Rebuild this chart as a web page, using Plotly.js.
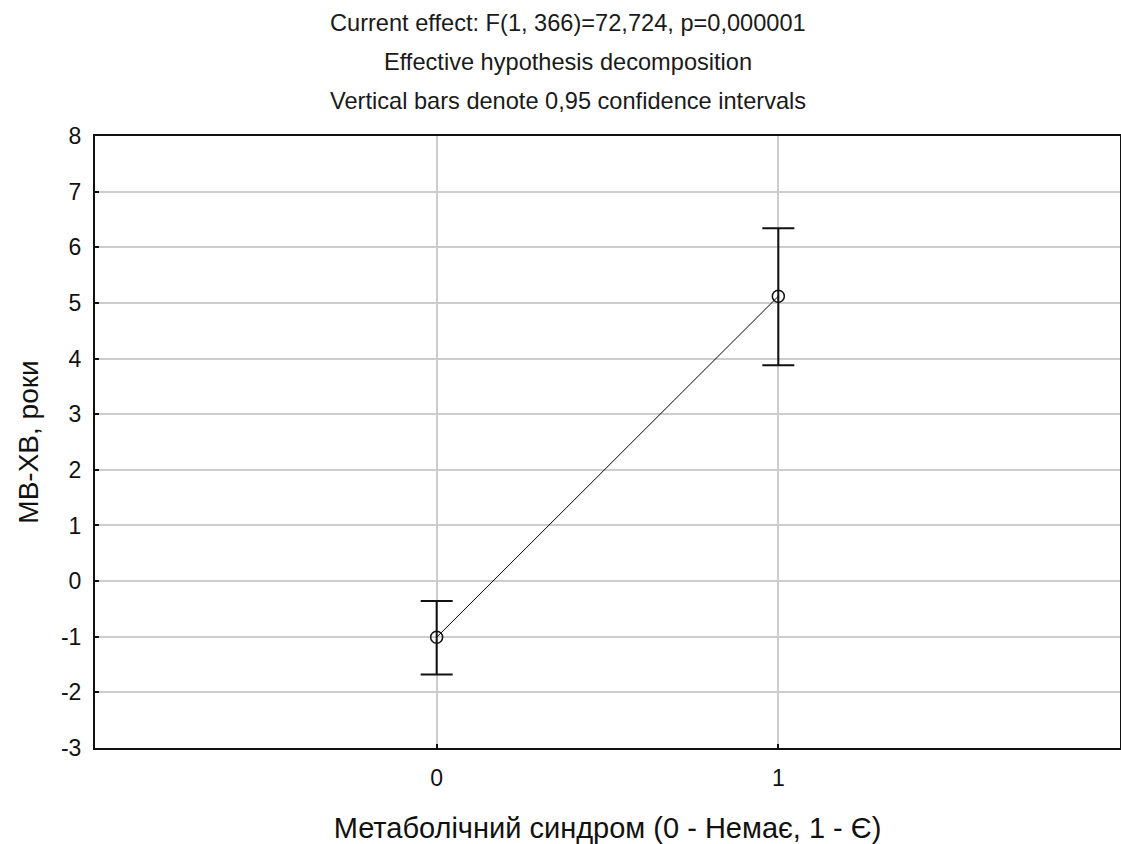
<!DOCTYPE html>
<html>
<head>
<meta charset="utf-8">
<script src="https://cdn.plot.ly/plotly-3.0.1.min.js"></script>
<style>html,body{margin:0;padding:0;background:#fff;}#chart{width:1121px;height:844px;}</style>
</head>
<body>
<div id="chart"></div>
<script>
const categories = [0, 1];
const means = [-1.01, 5.12];
const upper = [-0.36, 6.34];
const lower = [-1.68, 3.88];
const yTicks = [-3, -2, -1, 0, 1, 2, 3, 4, 5, 6, 7, 8];
const titleLines = [
  'Current effect: F(1, 366)=72,724, p=0,000001',
  'Effective hypothesis decomposition',
  'Vertical bars denote 0,95 confidence intervals'
];

const errPlus = means.map((m, i) => upper[i] - m);
const errMinus = means.map((m, i) => m - lower[i]);

const trace = {
  x: categories,
  y: means,
  type: 'scatter',
  mode: 'lines+markers',
  line: {color: '#000', width: 1},
  marker: {symbol: 'circle-open', size: 12, color: '#111', line: {width: 1.5, color: '#111'}},
  error_y: {type: 'data', symmetric: false, array: errPlus, arrayminus: errMinus, color: '#111', thickness: 2, width: 16},
  showlegend: false,
  hoverinfo: 'x+y'
};

const FONT = 'Liberation Sans, Arial, sans-serif';
const titleShifts = [113, 74, 35];
const layout = {
  width: 1121,
  height: 844,
  margin: {l: 95, r: 1, t: 136, b: 96},
  paper_bgcolor: '#fff',
  plot_bgcolor: '#fff',
  font: {family: FONT, color: '#111', size: 23},
  annotations: titleLines.map((t, i) => ({
    text: t, xref: 'paper', yref: 'paper', x: 0.461, y: 1, yanchor: 'middle', xanchor: 'center',
    yshift: titleShifts[i], showarrow: false, font: {family: FONT, size: 23.6, color: '#1a1a1a'}
  })),
  xaxis: {
    range: [-1, 2],
    tickmode: 'array',
    tickvals: categories,
    ticktext: categories.map(String),
    showgrid: true,
    gridcolor: '#cdcdcd',
    gridwidth: 2,
    zeroline: false,
    showline: true,
    linecolor: '#111',
    linewidth: 2,
    mirror: true,
    ticks: 'inside',
    ticklen: 4,
    tickwidth: 2,
    tickcolor: '#111',
    tickfont: {family: FONT, size: 23, color: '#111'},
    ticklabelstandoff: 8,
    title: {text: 'Метаболічний синдром (0 - Немає, 1 - Є)', font: {family: FONT, size: 29, color: '#111'}, standoff: 28}
  },
  yaxis: {
    range: [-3, 8],
    tickmode: 'array',
    tickvals: yTicks,
    ticktext: yTicks.map(String),
    showgrid: true,
    gridcolor: '#cdcdcd',
    gridwidth: 2,
    zeroline: false,
    showline: true,
    linecolor: '#111',
    linewidth: 2,
    mirror: true,
    ticks: 'inside',
    ticklen: 4,
    tickwidth: 2,
    tickcolor: '#111',
    tickfont: {family: FONT, size: 23, color: '#111'},
    ticklabelstandoff: 7,
    title: {text: 'МВ-ХВ, роки', font: {family: FONT, size: 28, color: '#111'}, standoff: 14}
  }
};

Plotly.newPlot('chart', [trace], layout, {displayModeBar: false, staticPlot: true});
</script>
</body>
</html>
